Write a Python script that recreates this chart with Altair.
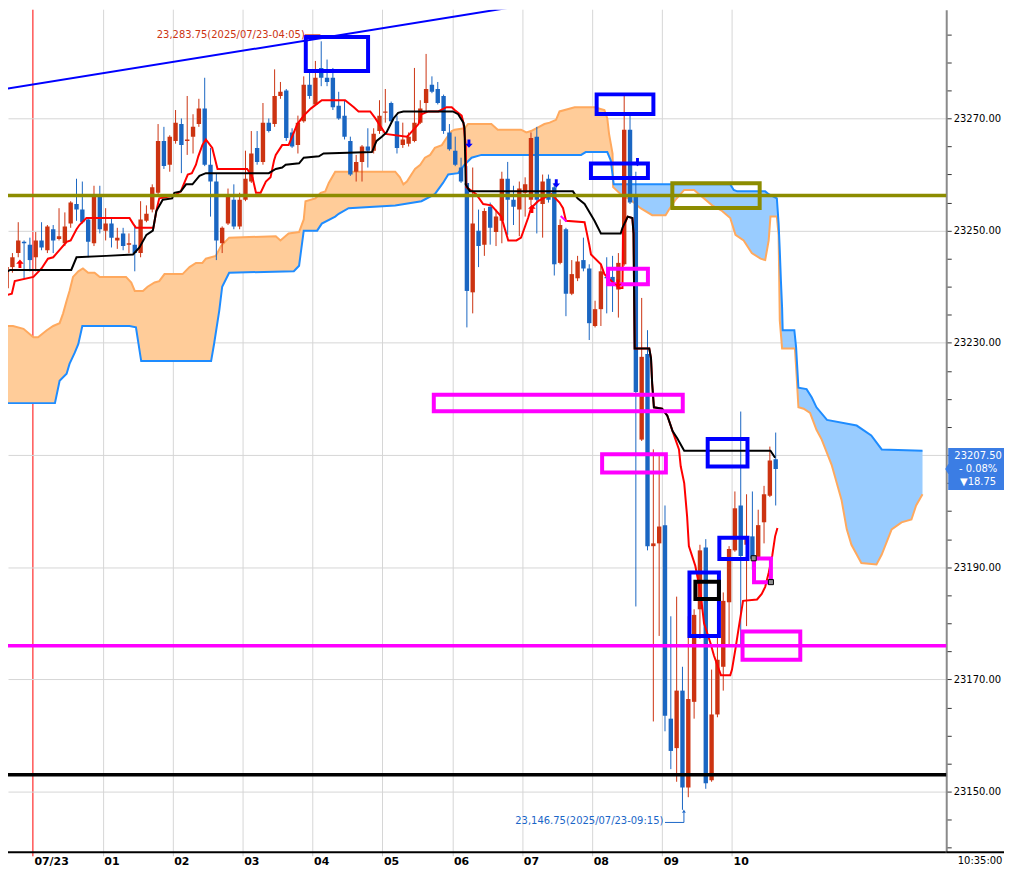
import altair as alt
import numpy as np
import pandas as pd

# ---------------- data ----------------
# 5-minute candles; slot 0 = 07/22 23:30, slot 6 = 07/23 00:00, slot 133 = 10:35
opens = [23239.25, 23239.75, 23243.5, 23246.0, 23248.0, 23247.5, 23245.25, 23248.25, 23246.5, 23250.25,
         23248.5, 23247.75, 23251.25, 23254.75, 23253.75, 23252.0, 23247.75, 23256.25, 23250.0, 23251.25,
         23248.25, 23249.5, 23247.5, 23247.5, 23246.0, 23251.75, 23253.75, 23256.75, 23266.0, 23261.75,
         23266.0, 23269.0, 23266.0, 23266.75, 23269.0, 23271.75, 23261.75, 23258.75, 23247.75, 23251.25,
         23255.5, 23250.75, 23255.5, 23258.75, 23264.75, 23262.25, 23269.25, 23269.0, 23274.0, 23275.0,
         23267.5, 23265.25, 23269.5, 23276.0, 23272.5, 23279.0, 23277.25, 23277.25, 23272.25, 23270.5,
         23266.0, 23260.5, 23262.25, 23265.0, 23264.25, 23267.75, 23271.0, 23272.75, 23269.5, 23265.25,
         23265.5, 23266.0, 23269.25, 23272.75, 23276.0, 23275.25, 23274.0, 23267.5, 23264.25, 23261.25,
         23258.5, 23239.0, 23250.0, 23247.5, 23254.25, 23249.75, 23251.75, 23259.25, 23255.5, 23253.75,
         23256.75, 23255.5, 23266.75, 23254.75, 23259.25, 23257.75, 23244.25, 23250.25, 23238.75, 23241.5,
         23244.75, 23243.25, 23233.0, 23236.0, 23241.75, 23241.75, 23239.5, 23244.0, 23268.0, 23256.25,
         23212.75, 23228.0, 23193.75, 23194.25, 23197.5, 23163.0, 23157.75, 23168.0, 23150.75, 23166.0,
         23182.5, 23193.5, 23152.0, 23163.75, 23172.25, 23183.75, 23193.0, 23201.0, 23194.0, 23195.5,
         23191.75, 23198.0, 23202.75, 23209.25]
highs = [23242.0, 23244.25, 23246.0, 23251.5, 23248.25, 23248.75, 23249.75, 23251.5, 23251.0, 23251.0,
         23254.0, 23253.25, 23255.25, 23259.25, 23258.75, 23252.25, 23258.0, 23258.0, 23254.0, 23252.25,
         23250.5, 23250.5, 23249.5, 23251.0, 23255.25, 23254.5, 23258.25, 23269.0, 23268.5, 23267.0,
         23271.5, 23270.0, 23274.0, 23270.75, 23273.5, 23277.25, 23264.75, 23260.25, 23250.75, 23257.5,
         23258.25, 23256.75, 23264.25, 23267.75, 23267.75, 23272.75, 23270.0, 23278.75, 23276.5, 23275.25,
         23268.25, 23270.5, 23277.5, 23278.75, 23280.25, 23283.75, 23280.5, 23279.0, 23274.75, 23273.25,
         23266.75, 23263.5, 23265.25, 23268.25, 23268.25, 23273.25, 23275.25, 23273.0, 23270.5, 23269.25,
         23267.5, 23279.0, 23273.25, 23281.5, 23277.5, 23276.5, 23274.25, 23269.0, 23266.75, 23263.0,
         23261.5, 23261.25, 23253.75, 23254.0, 23255.0, 23253.75, 23260.5, 23262.25, 23258.0, 23258.75,
         23259.5, 23267.5, 23268.5, 23260.0, 23260.0, 23258.5, 23252.0, 23250.5, 23244.75, 23245.5,
         23248.75, 23244.0, 23237.5, 23244.0, 23245.25, 23245.5, 23246.0, 23274.0, 23270.75, 23260.5,
         23238.0, 23232.25, 23211.0, 23210.0, 23201.0, 23181.25, 23184.75, 23172.25, 23181.25, 23182.5,
         23194.0, 23195.0, 23171.75, 23178.0, 23185.5, 23193.75, 23203.5, 23217.75, 23203.0, 23203.5,
         23200.25, 23204.5, 23211.5, 23214.0]
lows = [23238.25, 23238.0, 23242.5, 23245.25, 23241.5, 23242.75, 23242.75, 23246.5, 23246.0, 23246.0,
        23248.25, 23247.25, 23250.5, 23251.75, 23251.25, 23245.25, 23247.25, 23249.5, 23248.25, 23247.0,
        23246.75, 23246.5, 23246.0, 23242.75, 23245.25, 23251.5, 23253.25, 23256.25, 23261.0, 23260.5,
        23265.5, 23260.25, 23263.5, 23263.75, 23268.5, 23261.5, 23252.5, 23244.75, 23246.0, 23251.0,
        23250.25, 23250.25, 23255.25, 23258.5, 23261.75, 23261.75, 23267.5, 23268.5, 23273.5, 23266.0,
        23264.75, 23263.75, 23269.25, 23273.5, 23272.25, 23275.75, 23275.75, 23271.5, 23269.75, 23266.25,
        23259.75, 23258.75, 23258.75, 23261.25, 23263.75, 23267.25, 23269.25, 23269.25, 23263.75, 23264.75,
        23265.0, 23265.75, 23269.0, 23271.0, 23274.5, 23272.5, 23267.25, 23264.25, 23261.5, 23258.5,
        23232.75, 23235.25, 23243.5, 23245.5, 23247.5, 23247.25, 23247.75, 23249.25, 23251.0, 23249.0,
        23252.5, 23254.5, 23249.5, 23248.75, 23255.0, 23242.0, 23244.0, 23234.75, 23238.5, 23241.0,
        23242.75, 23230.5, 23232.75, 23233.0, 23235.25, 23235.5, 23234.5, 23243.75, 23254.75, 23183.0,
        23212.5, 23193.0, 23162.5, 23177.75, 23160.75, 23154.0, 23151.75, 23146.75, 23149.0, 23163.0,
        23177.25, 23150.5, 23151.75, 23163.25, 23168.0, 23176.25, 23192.75, 23176.0, 23179.5, 23189.5,
        23191.25, 23194.25, 23202.5, 23201.0]
closes = [23241.0, 23243.5, 23245.25, 23248.25, 23247.75, 23244.75, 23248.25, 23247.0, 23250.75, 23248.25,
          23249.0, 23250.75, 23255.0, 23253.75, 23251.5, 23248.0, 23256.25, 23250.25, 23251.25, 23248.75,
          23248.75, 23247.25, 23247.75, 23246.0, 23252.0, 23253.0, 23257.75, 23266.0, 23261.5, 23266.75,
          23269.25, 23265.25, 23266.25, 23268.5, 23271.75, 23261.75, 23258.75, 23248.25, 23250.5, 23256.25,
          23250.75, 23255.5, 23259.25, 23263.75, 23262.25, 23269.25, 23267.75, 23274.0, 23274.75, 23266.5,
          23265.0, 23269.25, 23276.0, 23274.0, 23277.25, 23277.25, 23276.5, 23272.0, 23270.0, 23266.75,
          23260.0, 23262.25, 23265.0, 23264.25, 23267.25, 23270.5, 23271.25, 23269.5, 23264.75, 23266.25,
          23266.75, 23269.25, 23271.75, 23275.25, 23274.75, 23272.75, 23267.75, 23264.5, 23261.75, 23258.75,
          23239.25, 23251.25, 23247.25, 23253.5, 23250.5, 23252.5, 23259.25, 23255.5, 23254.25, 23257.5,
          23258.25, 23266.5, 23255.5, 23258.75, 23255.5, 23244.0, 23251.0, 23238.75, 23242.25, 23244.5,
          23243.25, 23233.5, 23236.0, 23242.75, 23241.5, 23240.75, 23244.25, 23268.0, 23255.0, 23221.25,
          23227.5, 23193.75, 23194.25, 23197.25, 23163.5, 23157.25, 23168.0, 23150.75, 23166.5, 23181.5,
          23193.0, 23151.5, 23163.75, 23173.5, 23184.0, 23193.25, 23200.5, 23192.0, 23195.0, 23191.5,
          23197.5, 23203.0, 23209.0, 23207.5]

hour_ticks = [6, 18, 30, 42, 54, 66, 78, 90, 102, 114, 126]
hour_labels = ["07/23", "01", "02", "03", "04", "05", "06", "07", "08", "09", "10"]
y_ticks = list(range(23140, 23290, 5))

# conversion line (red) and base line (black): (slot position, price)
tenkan = [(0.3, 23238.25), (2.3, 23238.75), (2.8, 23241.0), (6.0, 23241.75), (7.4, 23243.25), (8.5, 23245.0),
          (9.4, 23245.25), (11.7, 23248.0), (12.4, 23248.25), (13.4, 23250.25), (13.9, 23251.0), (15.1, 23252.25),
          (22.5, 23252.25), (23.1, 23251.25), (23.6, 23250.5), (26.6, 23250.5), (27.1, 23253.5), (27.6, 23255.75),
          (30.2, 23256.25), (31.3, 23257.0), (31.9, 23258.5), (32.5, 23260.0), (33.2, 23260.25), (33.9, 23261.75),
          (34.3, 23263.25), (35.0, 23265.25), (35.6, 23266.25), (36.7, 23264.75), (37.6, 23261.0), (42.7, 23261.0),
          (43.6, 23259.5), (44.2, 23256.75), (45.0, 23256.75), (45.9, 23258.75), (46.7, 23259.5), (47.3, 23262.5),
          (47.6, 23263.5), (48.7, 23265.25), (49.8, 23265.25), (51.3, 23269.0), (52.4, 23270.5), (53.6, 23271.75),
          (55.5, 23273.25), (59.5, 23273.25), (61.0, 23272.0), (61.8, 23271.25), (63.8, 23271.25), (64.7, 23270.0),
          (66.4, 23267.25), (70.1, 23266.75), (70.6, 23267.25), (72.1, 23269.0), (72.6, 23270.75), (73.8, 23271.25),
          (75.5, 23271.25), (76.9, 23272.0), (77.8, 23272.0), (78.3, 23271.5), (79.5, 23270.5), (79.8, 23269.25),
          (80.2, 23265.25), (80.3, 23257.75), (82.0, 23256.5), (83.2, 23254.75), (84.6, 23254.5), (86.3, 23252.5),
          (87.5, 23248.25), (88.9, 23248.25), (89.7, 23248.75), (90.9, 23252.25), (91.4, 23254.0), (92.6, 23255.25),
          (94.9, 23256.5), (96.3, 23255.0), (96.9, 23254.0), (97.4, 23251.75), (100.6, 23251.5), (101.4, 23247.5),
          (101.7, 23245.75), (103.4, 23244.0), (104.0, 23242.25), (106.5, 23239.75), (107.1, 23239.75),
          (107.2, 23250.5), (108.0, 23252.5), (108.8, 23252.25), (109.0, 23249.5), (109.2, 23229.0),
          (111.7, 23229.0), (112.0, 23227.25), (112.2, 23222.75), (112.5, 23218.5), (113.9, 23218.25),
          (114.8, 23217.0), (115.7, 23214.25), (116.8, 23211.0),
          (117.1, 23208.0), (117.7, 23205.0), (118.2, 23199.0), (118.5, 23193.75), (119.6, 23190.25),
          (120.5, 23185.5), (121.1, 23180.0), (122.2, 23176.5), (122.8, 23174.25), (123.4, 23172.5),
          (124.0, 23170.75), (125.6, 23170.75), (125.9, 23171.75), (126.5, 23175.5), (127.1, 23179.5),
          (127.8, 23184.0), (130.2, 23184.25), (131.0, 23185.25), (131.6, 23186.5), (132.2, 23189.0),
          (132.8, 23192.0), (133.3, 23195.5), (133.7, 23197.0)]
kijun = [(0.3, 23241.75), (1.1, 23242.5), (2.0, 23243.0), (12.5, 23243.0), (13.4, 23245.25), (18.5, 23245.5),
         (23.1, 23245.75), (24.2, 23247.0), (25.4, 23249.25), (26.5, 23250.0), (27.1, 23253.5), (28.2, 23255.5),
         (29.8, 23255.75), (30.2, 23256.75), (31.3, 23257.0), (32.2, 23258.25), (33.3, 23258.25), (34.5, 23259.75),
         (35.6, 23260.25), (46.4, 23260.25), (47.6, 23261.0), (48.7, 23261.25), (49.3, 23261.75), (51.6, 23262.0),
         (52.4, 23263.0), (55.0, 23263.25), (55.8, 23263.75), (64.1, 23264.0), (64.9, 23266.0), (65.8, 23266.75),
         (66.6, 23267.5), (67.8, 23270.0), (68.6, 23271.0), (69.5, 23271.25), (78.0, 23271.25), (78.9, 23270.75),
         (79.8, 23269.25), (80.0, 23268.25), (80.2, 23258.25), (80.9, 23257.0), (98.6, 23257.0), (99.4, 23255.75),
         (100.6, 23254.75), (102.3, 23251.75), (103.4, 23249.5), (106.8, 23249.5), (107.1, 23250.5),
         (108.0, 23252.5), (108.8, 23252.25), (109.0, 23249.5), (109.2, 23229.0), (111.7, 23229.0),
         (112.0, 23227.25), (112.2, 23222.75), (112.5, 23218.5), (113.9, 23218.25), (114.8, 23217.0),
         (115.7, 23214.25), (116.5, 23213.0), (117.7, 23210.75), (132.5, 23210.75), (133.3, 23209.5)]

# leading spans (cloud), drawn 26 slots ahead
span_a = [(0.3, 23233.0), (2.5, 23233.0), (4.3, 23232.5), (6.0, 23231.0), (6.8, 23231.0), (8.3, 23232.25),
          (9.4, 23233.0), (10.5, 23233.5), (11.1, 23235.25), (11.7, 23237.5), (12.2, 23239.25), (12.8, 23241.75),
          (13.7, 23242.75), (14.5, 23243.25), (15.4, 23242.5), (16.5, 23242.5), (17.4, 23241.75), (21.9, 23241.75),
          (22.8, 23240.75), (23.4, 23239.25), (24.8, 23239.25), (25.6, 23240.0), (26.8, 23240.75), (27.6, 23241.0),
          (28.5, 23242.25), (31.6, 23242.25), (32.8, 23243.5), (33.9, 23244.25), (35.0, 23244.25), (35.6, 23245.0),
          (37.3, 23245.5), (38.2, 23247.25), (39.6, 23248.75), (47.6, 23249.0), (48.4, 23248.25), (49.8, 23249.5),
          (51.6, 23249.75), (52.4, 23252.0), (52.7, 23255.25), (54.4, 23255.75), (55.3, 23256.75), (56.1, 23257.0),
          (56.7, 23258.5), (57.8, 23260.5), (68.1, 23260.5), (68.9, 23259.5), (69.5, 23258.25), (70.1, 23258.75),
          (71.5, 23261.0), (72.4, 23261.75), (73.2, 23263.0), (74.1, 23263.5), (74.9, 23264.75), (76.1, 23265.25),
          (76.9, 23266.5), (77.8, 23267.75), (78.3, 23268.0), (80.0, 23268.25), (80.6, 23269.0), (84.6, 23269.0),
          (85.7, 23268.0), (89.7, 23268.0), (90.6, 23267.5), (91.4, 23267.75), (92.3, 23268.25), (93.7, 23269.0),
          (94.6, 23269.25), (95.7, 23269.75), (96.3, 23271.25), (98.9, 23272.0), (102.3, 23272.0), (104.0, 23271.5),
          (104.5, 23270.0), (104.8, 23267.25), (105.4, 23263.75), (105.5, 23257.75), (106.8, 23256.5),
          (108.5, 23255.5), (110.2, 23254.0), (112.2, 23252.75), (114.5, 23252.75), (115.1, 23253.75),
          (116.2, 23255.5), (117.7, 23257.25), (119.4, 23257.25), (120.5, 23256.25), (122.5, 23254.5),
          (124.2, 23253.5), (125.6, 23252.25), (126.5, 23249.25), (127.9, 23248.25), (129.3, 23246.0),
          (130.8, 23245.0), (131.6, 23244.75), (132.2, 23248.25), (132.5, 23252.5), (133.6, 23252.5),
          (133.9, 23249.25), (134.1, 23234.0), (134.5, 23229.0), (136.7, 23229.0), (137.0, 23224.0),
          (137.3, 23218.5), (138.2, 23218.25), (139.3, 23217.5), (140.4, 23214.5), (141.3, 23212.75),
          (143.0, 23208.25), (144.7, 23202.0), (145.6, 23196.75), (146.4, 23194.0), (148.1, 23190.75),
          (150.7, 23190.5), (151.6, 23192.25), (153.3, 23196.75), (155.0, 23198.0), (156.7, 23198.5),
          (157.5, 23201.0), (158.6, 23203.0)]
span_b = [(0.3, 23219.25), (9.7, 23219.25), (10.5, 23223.25), (11.7, 23224.5), (12.2, 23226.25), (13.1, 23228.25),
          (13.7, 23229.75), (14.4, 23233.0), (22.5, 23233.0), (23.6, 23232.75), (24.5, 23226.75), (36.5, 23226.75),
          (37.0, 23229.75), (37.9, 23235.75), (38.4, 23240.0), (39.6, 23242.5), (50.7, 23242.75), (51.6, 23243.75),
          (52.4, 23250.0), (54.7, 23250.0), (55.5, 23251.25), (57.8, 23252.5), (58.4, 23253.0), (60.1, 23254.0),
          (68.1, 23254.5), (72.6, 23255.25), (74.9, 23256.5), (76.3, 23258.5), (77.2, 23260.0), (78.9, 23260.25),
          (80.0, 23261.75), (81.2, 23263.0), (82.9, 23263.5), (100.0, 23263.5), (100.8, 23264.0), (104.5, 23264.0),
          (105.1, 23262.5), (105.4, 23260.0), (105.6, 23258.25), (125.6, 23258.25), (126.2, 23257.25),
          (126.8, 23257.0), (131.6, 23257.0), (132.2, 23256.5), (133.6, 23255.75), (133.9, 23251.25),
          (134.1, 23246.5), (134.3, 23241.0), (134.5, 23236.25), (134.6, 23232.25), (136.6, 23232.25),
          (136.9, 23229.25), (137.3, 23222.0), (138.7, 23221.75), (139.6, 23220.25), (140.4, 23218.5),
          (142.2, 23216.25), (147.3, 23215.25), (149.8, 23213.5), (151.6, 23211.0), (158.6, 23210.75)]

trend = [(0.3, 23275.1), (94.3, 23290.85)]
levels = [(23256.25, "#8c8c00"), (23176.0, "#ff00ff"), (23153.0, "#000000")]

# drawn boxes: x from, x to, price top, price bottom, colour
boxes = [(52.75, 63.44, 23284.5, 23278.46, "#0000ff"),
         (102.67, 112.41, 23274.29, 23270.79, "#0000ff"),
         (101.69, 111.47, 23261.98, 23259.37, "#0000ff"),
         (115.66, 130.65, 23258.43, 23254.05, "#8c8c00"),
         (104.63, 111.47, 23243.21, 23240.46, "#ff00ff"),
         (74.72, 117.45, 23220.75, 23217.82, "#ff00ff"),
         (103.61, 114.55, 23210.15, 23206.9, "#ff00ff"),
         (121.73, 128.56, 23212.87, 23207.97, "#0000ff"),
         (123.73, 128.56, 23195.24, 23191.46, "#0000ff"),
         (129.68, 132.58, 23191.56, 23187.32, "#ff00ff"),
         (118.6, 123.66, 23189.06, 23177.73, "#0000ff"),
         (119.62, 123.66, 23187.42, 23184.35, "#000000"),
         (127.71, 137.62, 23178.55, 23173.52, "#ff00ff")]
handles = [(129.62, 23191.6), (132.58, 23187.34)]

UP_ARROW = "M0,-1L0.9,0L0.35,0L0.35,1L-0.35,1L-0.35,0L-0.9,0Z"
DOWN_ARROW = "M0,1L0.9,0L0.35,0L0.35,-1L-0.35,-1L-0.35,0L-0.9,0Z"
signals = [(3.69, 23244.1, "up", "#ff0000"), (91.56, 23253.9, "up", "#ff0000"),
           (106.34, 23240.55, "down", "#ff0000"), (80.75, 23265.5, "down", "#0000ff"),
           (95.74, 23258.4, "down", "#0000ff"), (109.68, 23262.2, "down", "#0000ff")]

hi_note = (52.58, 23284.9, "23,283.75(2025/07/23-04:05)")
lo_note = (114.12, 23144.67, "23,146.75(2025/07/23-09:15)")
segments = [(52.58, 23284.9, 55.26, 23284.9, "#cc3311", 1),
            (114.4, 23144.5, 117.65, 23144.5, "#1a66c8", 1),
            (117.65, 23144.5, 117.65, 23146.2, "#1a66c8", 1),
            (96.5, 23252.6, 97.5, 23251.6, "#ff00ff", 2)]
low_tip = [(117.65, 23146.5)]

current_price = 23207.5
badge_lines = ["23207.50", "- 0.08%", "\u25bc18.75"]
current_time = "10:35:00"

# ---------------- style ----------------
W, H = 942, 846
X_DOMAIN = [1.641, 162.67]
Y_DOMAIN = [23139.17, 23289.38]
UP = "#cc3311"
DOWN = "#1a66c2"
FONT = "DejaVu Sans"

xs = alt.Scale(domain=X_DOMAIN, nice=False, zero=False, padding=0)
ys = alt.Scale(domain=Y_DOMAIN, nice=False, zero=False, padding=0)

label_js = "[" + ",".join(f"'{s}'" for s in hour_labels) + "][round((datum.value - 6) / 12)]"
xaxis = alt.Axis(values=hour_ticks, labelExpr=label_js, labelAlign="left", labelOffset=1,
                 labelFont=FONT, labelFontWeight="bold", labelFontSize=11, labelColor="black",
                 labelPadding=0, labelOverlap=False, labelFlush=False, tickSize=4, translate=0,
                 tickColor={"condition": {"test": "datum.value == 6", "value": "#ff0000"}, "value": "#c8c8c8"},
                 gridColor={"condition": {"test": "datum.value == 6", "value": "#ff0000"}, "value": "#d6d6d6"},
                 grid=True, domainColor="black", domainWidth=2)
yaxis = alt.Axis(orient="right", values=y_ticks,
                 labelExpr="datum.value % 20 == 10 ? format(datum.value, '.2f') : ''",
                 labelFont=FONT, labelFontSize=10, labelColor="black", labelPadding=2,
                 labelOverlap=False, tickSize=5, tickColor="#333333", domainColor="#8a8a8a", domainWidth=2,
                 grid=True, gridColor="#d6d6d6",
                 gridOpacity={"condition": {"test": "datum.value % 20 == 10", "value": 1}, "value": 0})


def X(field="x"):
    return alt.X(f"{field}:Q", scale=xs, axis=xaxis, title=None)


def Y(field="p"):
    return alt.Y(f"{field}:Q", scale=ys, axis=yaxis, title=None)


# cloud table on a shared x grid
ax = np.array([a for a, _ in span_a]); ap = np.array([b for _, b in span_a])
bx = np.array([a for a, _ in span_b]); bp = np.array([b for _, b in span_b])
gx = np.union1d(ax, bx)
cloud = pd.DataFrame({"x": gx, "a": np.interp(gx, ax, ap), "b": np.interp(gx, bx, bp)})
cbase = alt.Chart(cloud).transform_calculate(top="max(datum.a, datum.b)")
cloud_orange = cbase.mark_area(color="#ffcc99", clip=True).encode(x=X(), y=Y("top"), y2="b:Q")
cloud_blue = cbase.mark_area(color="#99ccff", clip=True).encode(x=X(), y=Y("top"), y2="a:Q")


def line_df(pairs):
    return pd.DataFrame({"x": [a for a, _ in pairs], "p": [b for _, b in pairs], "k": range(len(pairs))})


span_a_line = alt.Chart(line_df(span_a)).mark_line(color="#ffa95e", strokeWidth=2, clip=True).encode(
    x=X(), y=Y(), order="k:Q")
span_b_line = alt.Chart(line_df(span_b)).mark_line(color="#1e8cff", strokeWidth=2, clip=True).encode(
    x=X(), y=Y(), order="k:Q")
trend_line = alt.Chart(line_df(trend)).mark_line(color="#0000ff", strokeWidth=2, clip=True).encode(
    x=X(), y=Y(), order="k:Q")
tenkan_line = alt.Chart(line_df(tenkan)).mark_line(color="#ff0000", strokeWidth=2, clip=True).encode(
    x=X(), y=Y(), order="k:Q")
kijun_line = alt.Chart(line_df(kijun)).mark_line(color="#000000", strokeWidth=2, clip=True).encode(
    x=X(), y=Y(), order="k:Q")

candles = pd.DataFrame({"slot": range(len(opens)), "o": opens, "h": highs, "l": lows, "c": closes})
kbase = alt.Chart(candles).transform_calculate(x="datum.slot + 0.4")
kcolor = alt.condition("datum.c >= datum.o", alt.value(UP), alt.value(DOWN))
wicks = kbase.mark_rule(strokeWidth=1, clip=True).encode(x=X(), y=Y("l"), y2="h:Q", color=kcolor)
bodies = kbase.mark_bar(size=4.4, clip=True).encode(x=X(), y=Y("o"), y2="c:Q", color=kcolor)

lv = pd.DataFrame({"p": [a for a, _ in levels], "col": [b for _, b in levels]})
level_rules = alt.Chart(lv).mark_rule(strokeWidth=3.5).encode(
    y=Y(), color=alt.Color("col:N", scale=None))

bx_df = pd.DataFrame(boxes, columns=["x", "x2", "p", "p2", "col"])
box_marks = alt.Chart(bx_df).mark_rect(fillOpacity=0, strokeWidth=4, clip=True).encode(
    x=X(), x2="x2:Q", y=Y(), y2="p2:Q", stroke=alt.Color("col:N", scale=None))

hd = pd.DataFrame(handles, columns=["x", "p"])
handle_marks = alt.Chart(hd).mark_point(shape="square", size=26, filled=True, color="#8f8f8f",
                                         stroke="#000000", strokeWidth=1, opacity=1).encode(x=X(), y=Y())

sg = pd.DataFrame(signals, columns=["x", "p", "dir", "col"])
sg["shp"] = [UP_ARROW if d == "up" else DOWN_ARROW for d in sg["dir"]]
signal_marks = alt.Chart(sg).mark_point(filled=True, size=70, opacity=1, strokeWidth=0).encode(
    x=X(), y=Y(), shape=alt.Shape("shp:N", scale=None), color=alt.Color("col:N", scale=None))

seg = pd.DataFrame(segments, columns=["x", "p", "x2", "p2", "col", "w"])
seg_marks = alt.Chart(seg).mark_rule(clip=True).encode(
    x=X(), y=Y(), x2="x2:Q", y2="p2:Q", color=alt.Color("col:N", scale=None),
    strokeWidth=alt.StrokeWidth("w:Q", scale=None))

tip = alt.Chart(pd.DataFrame(low_tip, columns=["x", "p"])).mark_point(
    shape="triangle-up", size=14, filled=True, color="#1a66c8", opacity=1).encode(x=X(), y=Y())

hi_text = alt.Chart(pd.DataFrame([hi_note], columns=["x", "p", "t"])).mark_text(
    align="right", baseline="middle", font=FONT, fontSize=10, color="#cc3311").encode(
    x=X(), y=Y(), text="t:N")
lo_text = alt.Chart(pd.DataFrame([lo_note], columns=["x", "p", "t"])).mark_text(
    align="right", baseline="middle", font=FONT, fontSize=10, color="#1a66c8").encode(
    x=X(), y=Y(), text="t:N")

BADGE = "M-1.1,0L-1,-0.17L-1,-0.7L1,-0.7L1,0.7L-1,0.7L-1,0.17Z"
price_df = pd.DataFrame({"p": [current_price]})
badge = alt.Chart(price_df).mark_point(shape=BADGE, size=3600, filled=True, color="#3b7de4",
                                        opacity=1, strokeWidth=0).encode(
    x=alt.value(974), y=Y())
badge_texts = []
for line, dy in zip(badge_lines, [-13, 0, 13]):
    badge_texts.append(
        alt.Chart(pd.DataFrame({"p": [current_price], "t": [line]})).mark_text(
            font=FONT, fontSize=10, color="white", align="center", baseline="middle", dy=dy).encode(
            x=alt.value(974), y=Y(), text="t:N"))

time_text = alt.Chart(pd.DataFrame({"t": [current_time]})).mark_text(
    font=FONT, fontSize=10, color="black", align="center", baseline="middle").encode(
    x=alt.value(976), y=alt.value(855), text="t:N")
axis_ext = alt.Chart(pd.DataFrame({"t": [current_time]})).mark_rule(color="black", strokeWidth=2).encode(
    x=alt.value(942), x2=alt.value(1000), y=alt.value(846))

chart = alt.layer(
    cloud_orange, cloud_blue, span_a_line, span_b_line, trend_line,
    wicks, bodies, tenkan_line, kijun_line, level_rules, seg_marks,
    box_marks, handle_marks, signal_marks, tip, hi_text, lo_text,
    badge, *badge_texts, time_text, axis_ext
).properties(
    width=W, height=H, background="white",
    padding={"left": 0, "top": 0, "right": 58, "bottom": 16},
    autosize=alt.AutoSizeParams(type="none"),
).configure_view(strokeWidth=0)

chart.save("out.html", embed_options={"renderer": "svg", "actions": False})
